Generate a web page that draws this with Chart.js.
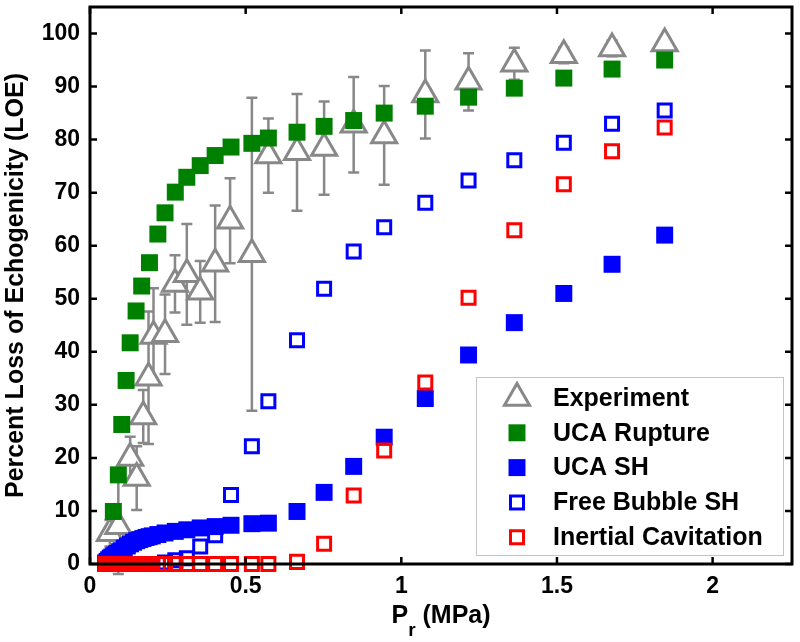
<!DOCTYPE html>
<html>
<head>
<meta charset="utf-8">
<script src="https://cdn.jsdelivr.net/npm/chart.js@4.4.1/dist/chart.umd.min.js"></script>
<style>
  html, body { margin: 0; padding: 0; background: #fff; }
</style>
</head>
<body>
<canvas id="loe" width="800" height="642"></canvas>
<script>
// measured LOE with std error bars
const expP   = [0.064, 0.091, 0.129, 0.15, 0.171, 0.188, 0.204, 0.241, 0.273, 0.311, 0.354, 0.402, 0.45, 0.52, 0.573, 0.665, 0.752, 0.847, 0.945, 1.077, 1.216, 1.363, 1.522, 1.677, 1.846];
const expLOE = [5.8, 7.1, 20.0, 16.2, 27.8, 35.1, 43.0, 43.3, 52.8, 54.6, 51.3, 56.6, 64.7, 58.4, 77.0, 77.6, 78.4, 82.8, 80.8, 88.5, 90.9, 94.3, 95.9, 97.2, 98.1];
const expErr = [2.5, 9, 4, 6, 5, 12.5, 9, 7.5, 5.4, 9.5, 5.8, 11, 8, 29.5, 7, 11, 8.8, 9, 9.3, 8.3, 5.4, 3, 1.5, 1.5, 0.5];

// UCA rupture model
const ruptP   = [0.075, 0.091, 0.102, 0.116, 0.129, 0.148, 0.166, 0.191, 0.218, 0.241, 0.274, 0.311, 0.354, 0.402, 0.453, 0.52, 0.573, 0.665, 0.752, 0.847, 0.945, 1.077, 1.216, 1.363, 1.522, 1.677, 1.846];
const ruptLOE = [9.9, 16.8, 26.3, 34.6, 41.7, 47.7, 52.4, 56.8, 62.2, 66.2, 70.1, 72.9, 75.1, 77.0, 78.6, 79.3, 80.3, 81.4, 82.5, 83.6, 85.0, 86.3, 88.0, 89.7, 91.6, 93.3, 95.0];

// pressures used for the SH / cavitation models
const modelP = [0.05, 0.055, 0.06, 0.065, 0.07, 0.075, 0.08, 0.085, 0.09, 0.095, 0.1, 0.11, 0.12, 0.13, 0.14, 0.15, 0.16, 0.17, 0.18, 0.19, 0.2, 0.218, 0.241, 0.274, 0.311, 0.354, 0.402, 0.453, 0.52, 0.573, 0.665, 0.752, 0.847, 0.945, 1.077, 1.216, 1.363, 1.522, 1.677, 1.846];
const ucaShLOE  = [0.2, 0.5, 0.8, 1.1, 1.3, 1.5, 1.7, 1.9, 2.0, 2.3, 2.5, 3.0, 3.4, 3.8, 4.1, 4.4, 4.6, 4.8, 5.0, 5.15, 5.3, 5.55, 5.85, 6.15, 6.45, 6.8, 7.05, 7.3, 7.6, 7.7, 9.9, 13.5, 18.4, 23.9, 31.2, 39.4, 45.5, 51.0, 56.5, 62.0];
const freeShLOE = [0, 0, 0, 0, 0, 0, 0, 0, 0, 0, 0, 0, 0, 0, 0, 0, 0, 0, 0, 0, 0, 0, 0.3, 0.7, 1.1, 3.3, 5.4, 13.0, 22.2, 30.7, 42.2, 51.9, 58.9, 63.5, 68.1, 72.3, 76.1, 79.4, 83.0, 85.5];
const icLOE     = [0, 0, 0, 0, 0, 0, 0, 0, 0, 0, 0, 0, 0, 0, 0, 0, 0, 0, 0, 0, 0, 0, 0, 0, 0, 0, 0, 0, 0, 0, 0.4, 3.8, 12.9, 21.4, 34.2, 50.2, 62.9, 71.6, 77.8, 82.3];

const seriesNames = ['Experiment', 'UCA Rupture', 'UCA SH', 'Free Bubble SH', 'Inertial Cavitation'];

const FONT = "'Liberation Sans', Arial, sans-serif";
const GRAY = '#888888';

const pts = (xs, ys) => xs.map((x, i) => ({ x: x, y: ys[i] }));

// error bars under the triangles
const errorBars = {
  id: 'errorBars',
  beforeDatasetsDraw(chart) {
    const { ctx, scales: { x, y } } = chart;
    ctx.save();
    ctx.strokeStyle = GRAY;
    ctx.lineWidth = 2.5;
    ctx.beginPath();
    expP.forEach((p, i) => {
      const px = x.getPixelForValue(p);
      const top = y.getPixelForValue(expLOE[i] + expErr[i]);
      const bot = y.getPixelForValue(expLOE[i] - expErr[i]);
      ctx.moveTo(px, top); ctx.lineTo(px, bot);
      ctx.moveTo(px - 5.5, top); ctx.lineTo(px + 5.5, top);
      ctx.moveTo(px - 5.5, bot); ctx.lineTo(px + 5.5, bot);
    });
    ctx.stroke();
    ctx.restore();
  }
};

// box axes with inward ticks, x title with subscript, legend box
const frame = {
  id: 'frame',
  afterDatasetsDraw(chart) {
    const { ctx, chartArea: a, scales: { x, y } } = chart;
    ctx.save();
    ctx.strokeStyle = '#000';
    ctx.lineWidth = 2.5;
    ctx.beginPath();
    x.ticks.forEach(t => {
      const px = x.getPixelForValue(t.value);
      ctx.moveTo(px, a.bottom); ctx.lineTo(px, a.bottom - 7);
      ctx.moveTo(px, a.top); ctx.lineTo(px, a.top + 7);
    });
    y.ticks.forEach(t => {
      const py = y.getPixelForValue(t.value);
      ctx.moveTo(a.left, py); ctx.lineTo(a.left + 7, py);
      ctx.moveTo(a.right, py); ctx.lineTo(a.right - 7, py);
    });
    ctx.stroke();
    ctx.lineWidth = 3;
    ctx.strokeRect(a.left, a.top, a.right - a.left, a.bottom - a.top);
    ctx.restore();
  },
  afterDraw(chart) {
    const { ctx, chartArea: a } = chart;
    ctx.save();
    // x title: P_r (MPa)
    ctx.fillStyle = '#000';
    ctx.textBaseline = 'alphabetic';
    const big = 'bold 25px ' + FONT, small = 'bold 19px ' + FONT;
    ctx.font = big;
    const wP = ctx.measureText('P').width, wU = ctx.measureText(' (MPa)').width;
    ctx.font = small;
    const wR = ctx.measureText('r').width;
    let tx = (a.left + a.right) / 2 - (wP + wR + wU) / 2;
    const base = 623;
    ctx.font = big; ctx.fillText('P', tx, base);
    ctx.font = small; ctx.fillText('r', tx + wP, base + 13);
    ctx.font = big; ctx.fillText(' (MPa)', tx + wP + wR, base);

    // legend
    const L = a.right - 316, T = a.bottom - 187, W = 307, H = 178;
    ctx.fillStyle = '#fff';
    ctx.fillRect(L, T, W, H);
    ctx.strokeStyle = '#c4c4c4';
    ctx.lineWidth = 1;
    ctx.strokeRect(L + 0.5, T + 0.5, W, H);
    ctx.textBaseline = 'middle';
    ctx.font = 'bold 25px ' + FONT;
    chart.data.datasets.forEach((ds, i) => {
      const cy = T + 21 + i * 34.8;
      ctx.fillStyle = ds.pointBackgroundColor;
      ctx.strokeStyle = ds.pointBorderColor;
      ctx.lineWidth = ds.pointBorderWidth;
      Chart.helpers.drawPoint(ctx, {
        pointStyle: ds.pointStyle, radius: ds.pointRadius, rotation: 0, borderWidth: ds.pointBorderWidth
      }, L + 41, cy);
      ctx.fillStyle = '#000';
      ctx.fillText(ds.label, L + 77, cy + 1);
    });
    ctx.restore();
  }
};

new Chart(document.getElementById('loe'), {
  type: 'scatter',
  data: {
    datasets: [
      { label: seriesNames[0], data: pts(expP, expLOE), order: 5,
        pointStyle: 'triangle', pointRadius: 14.5, pointBorderWidth: 3,
        pointBorderColor: GRAY, pointBackgroundColor: '#ffffff' },
      { label: seriesNames[1], data: pts(ruptP, ruptLOE), order: 4,
        pointStyle: 'rect', pointRadius: 12, pointBorderWidth: 0,
        pointBorderColor: '#008000', pointBackgroundColor: '#008000' },
      { label: seriesNames[2], data: pts(modelP, ucaShLOE), order: 3,
        pointStyle: 'rect', pointRadius: 12, pointBorderWidth: 0,
        pointBorderColor: '#0000ff', pointBackgroundColor: '#0000ff' },
      { label: seriesNames[3], data: pts(modelP, freeShLOE), order: 2,
        pointStyle: 'rect', pointRadius: 9.2, pointBorderWidth: 3,
        pointBorderColor: '#0000ff', pointBackgroundColor: 'rgba(0,0,0,0)' },
      { label: seriesNames[4], data: pts(modelP, icLOE), order: 1,
        pointStyle: 'rect', pointRadius: 9.2, pointBorderWidth: 3,
        pointBorderColor: '#ff0000', pointBackgroundColor: 'rgba(0,0,0,0)' }
    ]
  },
  options: {
    responsive: false,
    animation: false,
    events: [],
    clip: false,
    layout: { autoPadding: false, padding: { top: 7, right: 8, left: 0, bottom: 0 } },
    plugins: { legend: { display: false }, tooltip: { enabled: false } },
    scales: {
      x: {
        type: 'linear', min: 0, max: 2.255,
        grid: { display: false, drawTicks: false },
        border: { display: false },
        ticks: { stepSize: 0.5, includeBounds: false, padding: 9, color: '#000',
                 callback: v => String(v),
                 font: { family: FONT, size: 23, weight: 'bold' } },
        afterFit(s) { s.height = 78; s.paddingLeft = 0; s.paddingRight = 0; }
      },
      y: {
        type: 'linear', min: 0, max: 105,
        grid: { display: false, drawTicks: false },
        border: { display: false },
        ticks: { stepSize: 10, includeBounds: false, padding: 10, color: '#000',
                 font: { family: FONT, size: 23, weight: 'bold' } },
        title: { display: true, text: 'Percent Loss of Echogenicity (LOE)', color: '#000',
                 padding: { top: 1, bottom: 0 },
                 font: { family: FONT, size: 25, weight: 'bold' } },
        afterFit(s) { s.width = 90; s.paddingTop = 0; s.paddingBottom = 0; }
      }
    }
  },
  plugins: [errorBars, frame]
});
</script>
</body>
</html>
